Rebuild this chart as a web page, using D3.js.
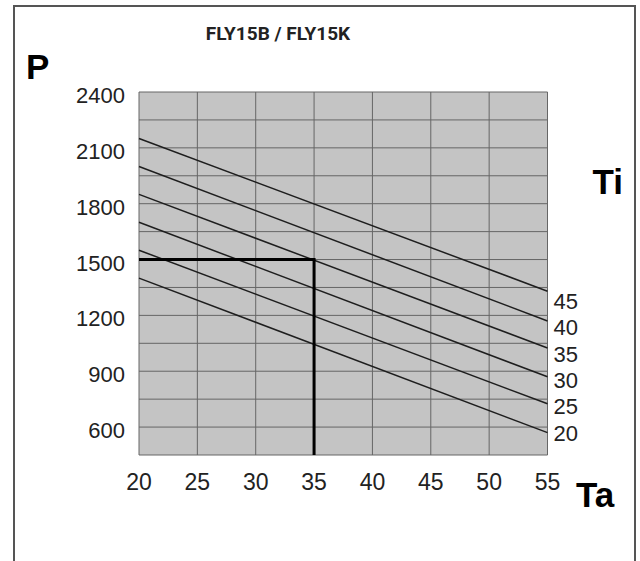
<!DOCTYPE html>
<html lang="en">
<head>
<meta charset="UTF-8" />
<title>FLY15B / FLY15K</title>
<script src="https://d3js.org/d3.v7.min.js"></script>
<style>
body {
    margin: 0;
    padding: 0;
    background: #fff;
}
svg {
    display: block;
    font-family: "Liberation Sans", Arial, sans-serif;
}
.tick-label {
    font-size: 22px;
    fill: #222;
}
.x-label {
    font-size: 23px;
}
.big {
    font-size: 35px;
    font-weight: bold;
    fill: #000;
}
</style>
</head>
<body>
<svg width="640" height="561"></svg>

<script>
// chart data
const taTicks = [20, 25, 30, 35, 40, 45, 50, 55];
const pTicks = [600, 900, 1200, 1500, 1800, 2100, 2400];
const pGrid = [450, 600, 750, 900, 1050, 1200, 1350, 1500, 1650, 1800, 1950, 2100, 2250, 2400];
const tiValues = [20, 25, 30, 35, 40, 45];
const pAtTa20 = [1400, 1550, 1700, 1850, 2000, 2150];
const pAtTa55 = [570, 725, 870, 1025, 1170, 1330];
const markTa = 35;
const markP = 1500;

const svg = d3.select("svg");

const x = d3.scaleLinear().domain([20, 55]).range([139, 547.5]);
const y = d3.scaleLinear().domain([450, 2400]).range([455, 92]);

// outer frame (open at the bottom)
svg.append("path")
    .attr("d", "M14,561 L14,6 L635,6 L635,561")
    .attr("fill", "none")
    .attr("stroke", "#555")
    .attr("stroke-width", 2);

// plot background
svg.append("rect")
    .attr("x", x(20))
    .attr("y", y(2400))
    .attr("width", x(55) - x(20))
    .attr("height", y(450) - y(2400))
    .attr("fill", "#c4c4c4");

// grid
svg.append("g")
    .selectAll("line")
    .data(pGrid)
    .enter()
    .append("line")
    .attr("x1", x(20))
    .attr("x2", x(55))
    .attr("y1", (d) => y(d))
    .attr("y2", (d) => y(d))
    .attr("stroke", "#666")
    .attr("stroke-width", 1);

svg.append("g")
    .selectAll("line")
    .data(taTicks)
    .enter()
    .append("line")
    .attr("x1", (d) => x(d))
    .attr("x2", (d) => x(d))
    .attr("y1", y(2400))
    .attr("y2", y(450))
    .attr("stroke", "#666")
    .attr("stroke-width", 1);

// Ti lines
const lines = tiValues.map((ti, i) => [
    { ta: 20, p: pAtTa20[i] },
    { ta: 55, p: pAtTa55[i] },
]);

const line = d3.line()
    .x((d) => x(d.ta))
    .y((d) => y(d.p));

svg.append("g")
    .selectAll("path")
    .data(lines)
    .enter()
    .append("path")
    .attr("d", line)
    .attr("fill", "none")
    .attr("stroke", "#1e1e1e")
    .attr("stroke-width", 1.5);

// operating point lines
svg.append("path")
    .attr("d", line([
        { ta: 20, p: markP },
        { ta: markTa, p: markP },
        { ta: markTa, p: 450 },
    ]))
    .attr("fill", "none")
    .attr("stroke", "#000")
    .attr("stroke-width", 3);

// y tick labels
svg.append("g")
    .selectAll("text")
    .data(pTicks)
    .enter()
    .append("text")
    .attr("class", "tick-label")
    .attr("x", x(20) - 14)
    .attr("y", (d) => y(d) + 11)
    .attr("text-anchor", "end")
    .text((d) => d);

// x tick labels
svg.append("g")
    .selectAll("text")
    .data(taTicks)
    .enter()
    .append("text")
    .attr("class", "tick-label x-label")
    .attr("x", (d) => x(d))
    .attr("y", y(450) + 35)
    .attr("text-anchor", "middle")
    .text((d) => d);

// Ti labels on the right, stacked up from the lowest line
svg.append("g")
    .selectAll("text")
    .data(tiValues)
    .enter()
    .append("text")
    .attr("class", "tick-label")
    .attr("x", x(55) + 6)
    .attr("y", (d, i) => y(pAtTa55[0]) + 8 - i * 26.3)
    .text((d) => d);

// axis names and title
svg.append("text")
    .attr("class", "big")
    .attr("x", 26)
    .attr("y", 79)
    .text("P");

svg.append("text")
    .attr("class", "big")
    .attr("x", 623)
    .attr("y", 194)
    .attr("text-anchor", "end")
    .text("Ti");

svg.append("text")
    .attr("class", "big")
    .attr("x", 576)
    .attr("y", 507)
    .text("Ta");

svg.append("text")
    .attr("x", 278)
    .attr("y", 40)
    .attr("text-anchor", "middle")
    .style("font-family", "Roboto, sans-serif")
    .style("font-size", "19px")
    .style("font-weight", "bold")
    .style("fill", "#222")
    .text("FLY15B / FLY15K");
</script>
</body>
</html>
